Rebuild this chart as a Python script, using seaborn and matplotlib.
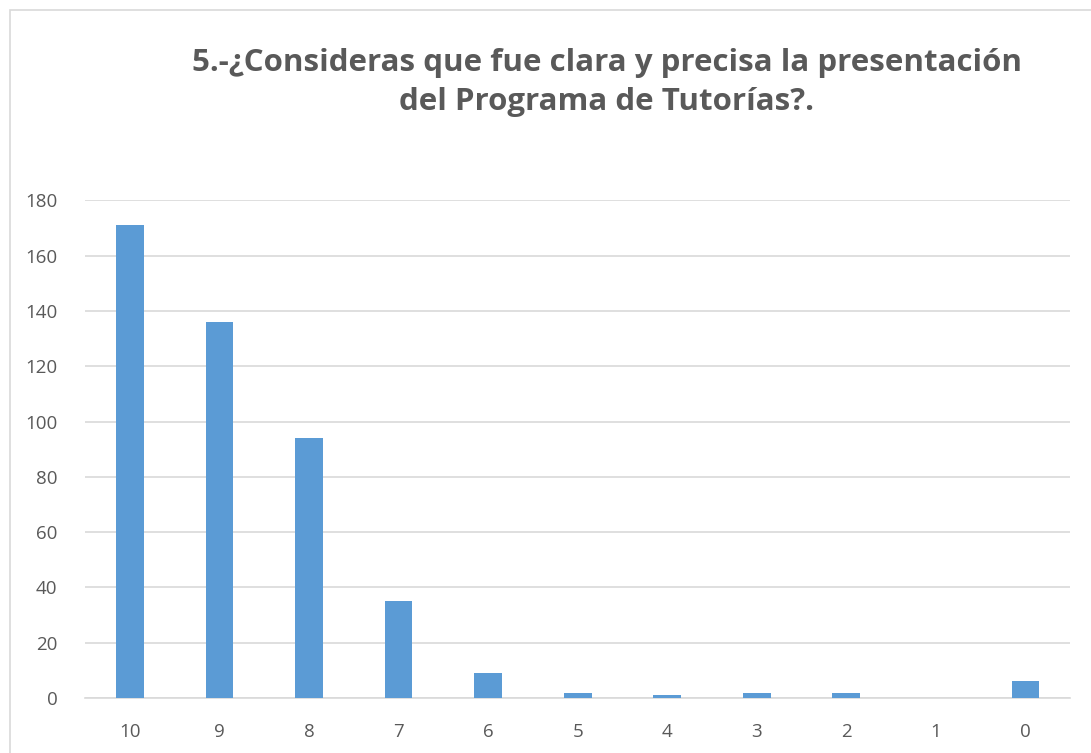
import matplotlib
matplotlib.use("Agg")
import matplotlib.pyplot as plt
import seaborn as sns
from matplotlib.patches import Rectangle

# Datos
calificaciones = ["10", "9", "8", "7", "6", "5", "4", "3", "2", "1", "0"]
respuestas = [171, 136, 94, 35, 9, 2, 1, 2, 2, 0, 6]
titulo = "5.-¿Consideras que fue clara y precisa la presentación\ndel Programa de Tutorías?."

sns.set_style("white")
plt.rcParams["font.family"] = ["Open Sans", "DejaVu Sans"]

fig = plt.figure(figsize=(10.91, 7.53), dpi=100)
ax = fig.add_axes([0.078, 0.073, 0.903, 0.661])

sns.barplot(x=calificaciones, y=respuestas, color="#5B9BD5", width=0.31,
            saturation=1, linewidth=0, ax=ax, zorder=3)

ax.set_ylim(0, 180)
ax.set_yticks(range(0, 181, 20))
ax.yaxis.grid(True, color="#D9D9D9", linewidth=1.2, zorder=0)
ax.xaxis.grid(False)
for lado in ["top", "right", "left"]:
    ax.spines[lado].set_visible(False)
ax.spines["bottom"].set_color("#D9D9D9")
ax.spines["bottom"].set_linewidth(1.2)
ax.tick_params(axis="both", length=0, labelsize=13.5, colors="#595959")
ax.tick_params(axis="x", pad=18)
ax.tick_params(axis="y", pad=20)
ax.set_xlabel("")
ax.set_ylabel("")

fig.text(0.556, 0.890, titulo, ha="center", va="center", fontsize=22.5,
         fontweight="bold", color="#595959", linespacing=1.38)

# Marco del gráfico
fig.patches.append(Rectangle((0.009, -0.01), 1.2, 0.997, transform=fig.transFigure,
                             fill=False, edgecolor="#D9D9D9", linewidth=1.2))

fig.savefig("out.png", dpi=100)
